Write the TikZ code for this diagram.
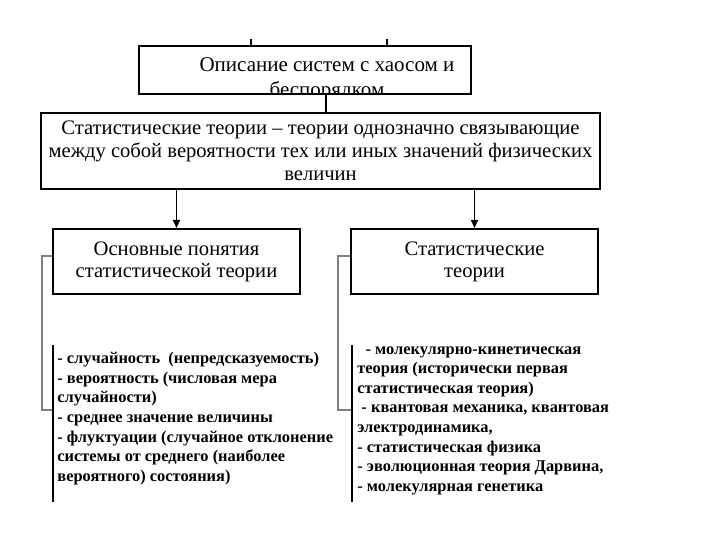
\documentclass[tikz,border=0pt]{standalone}
\usepackage{fontspec}
\setmainfont{Liberation Serif}
\usetikzlibrary{arrows.meta}

\begin{document}
\begin{tikzpicture}[x=0.5pt,y=-0.5pt,
    ramka/.style={draw=black,line width=1pt,inner sep=0pt},
    svyaz/.style={draw=black,line width=0.7pt},
    strelka/.style={svyaz,-{Triangle[length=4pt,width=3.5pt]}},
    skobka/.style={draw=black!50,line width=1pt},
    chert/.style={draw=black,line width=1pt},
    spisok/.style={anchor=north west,inner sep=0pt,align=left,
      font=\fontsize{8.2}{9.8}\selectfont\bfseries}]
  \useasboundingbox (0,0) rectangle (720,540);

  % Верхний блок: текст обрезан рамкой снизу.
  \node[ramka,minimum width=166pt,minimum height=24pt] (opis) at (305,70) {};
  \begin{scope}
    \clip (139,46) rectangle (471,93);
    \node[align=center,font=\fontsize{10.5}{12.5}\selectfont] (opistxt) at (327,79)
      {Описание систем с хаосом и\\беспорядком};
  \end{scope}
  \coordinate (t1) at (251,39);
  \coordinate (t2) at (387,39);
  \draw[svyaz] (t1) -- (t1 |- opis.north);
  \draw[svyaz] (t2) -- (t2 |- opis.north);

  % Определение статистических теорий.
  \node[ramka,minimum width=279.5pt,minimum height=38pt,align=center,
    font=\fontsize{10.3}{11.6}\selectfont] (stat) at (320.5,151)
    {Статистические теории – теории однозначно связывающие\\
     между собой вероятности тех или иных значений физических\\
     величин};
  \coordinate (sv) at (326,0);
  \draw[svyaz] (opis.south -| sv) -- (stat.north -| sv);

  % Два нижних блока.
  \node[ramka,minimum width=123.5pt,minimum height=32.5pt,align=center,
    font=\fontsize{10.3}{11}\selectfont] (osn) at (176.5,261.5)
    {Основные понятия\\статистической теории};
  \node[ramka,minimum width=123.5pt,minimum height=32.5pt,align=center,
    font=\fontsize{10.3}{11}\selectfont] (stt) at (474.5,261.5)
    {Статистические\\теории};
  \draw[strelka] (stat.south -| osn) -- (osn.north);
  \draw[strelka] (stat.south -| stt) -- (stt.north);

  % Левый список.
  \coordinate (lverh) at (53,345);
  \coordinate (lniz) at (53,502);
  \coordinate (lsk1) at (42,256);
  \coordinate (lsk2) at (42,410);
  \draw[skobka] (osn.west |- lsk1) -- (lsk1) -- (lsk2) -- (lsk2 -| lverh);
  \draw[chert] (lverh) -- (lniz);
  \node[spisok] (lspisok) at (57,352)
    {- случайность \ (непредсказуемость)\\
     - вероятность (числовая мера\\
     случайности)\\
     - среднее значение величины\\
     - флуктуации (случайное отклонение\\
     системы от среднего (наиболее\\
     вероятного) состояния)};

  % Правый список.
  \coordinate (rverh) at (352,345);
  \coordinate (rniz) at (352,502);
  \coordinate (rsk1) at (338,256);
  \coordinate (rsk2) at (338,410);
  \draw[skobka] (stt.west |- rsk1) -- (rsk1) -- (rsk2) -- (rsk2 -| rverh);
  \draw[chert] (rverh) -- (rniz);
  \node[spisok] (rspisok) at (357,346)
    {\ \ - молекулярно-кинетическая\\
     теория (исторически первая\\
     статистическая теория)\\
     \ - квантовая механика, квантовая\\
     электродинамика,\\
     - статистическая физика\\
     - эволюционная теория Дарвина,\\
     - молекулярная генетика};
\end{tikzpicture}
\end{document}
